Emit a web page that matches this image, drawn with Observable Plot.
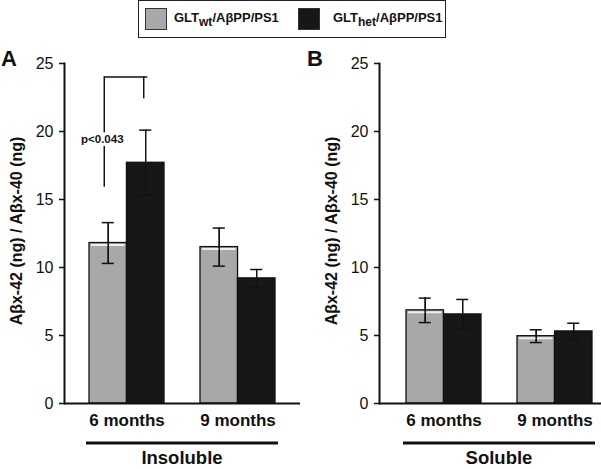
<!DOCTYPE html>
<html><head><meta charset="utf-8">
<script src="https://cdn.jsdelivr.net/npm/d3@7"></script>
<script src="https://cdn.jsdelivr.net/npm/@observablehq/plot@0.6"></script>
<style>
body{margin:0;background:#fff;font-family:"Liberation Sans",Arial,sans-serif;}
#wrap{position:relative;width:601px;height:469px;overflow:hidden;}
#legend{position:absolute;left:138px;top:0;width:306px;height:36px;border:1px solid #222;box-sizing:content-box;font-weight:bold;font-size:13px;color:#111;}
.sw{position:absolute;top:7px;width:20px;height:20px;border:1px solid #333;}
.lt{position:absolute;top:9px;white-space:nowrap;}
.lt sub{font-size:12px;vertical-align:-4px;line-height:0;}
.plabel{position:absolute;font-weight:bold;font-size:22px;color:#111;}
#panels{position:absolute;left:0;top:40px;display:flex;}
</style></head>
<body><div id="wrap">
<div id="legend"></div>
<div class="plabel" style="left:1px;top:46px">A</div>
<div class="plabel" style="left:307px;top:46px">B</div>
<div id="panels"></div>
</div>
<script>
const months = ["6 months", "9 months"];
const genotypes = ["wt", "het"];
const genoColors = ["#a8a8a8", "#171717"];
const legendLabels = [["GLT", "wt", "/AβPP/PS1"], ["GLT", "het", "/AβPP/PS1"]];
const yTicks = [0, 5, 10, 15, 20, 25];
const yLabel = "Aβx-42 (ng) / Aβx-40 (ng)";

// Panel A: insoluble  (order: 6wt, 6het, 9wt, 9het)
const insolubleMean = [11.8, 17.7, 11.5, 9.2];
const insolubleSem  = [1.5, 2.4, 1.4, 0.65];
// Panel B: soluble
const solubleMean = [6.85, 6.55, 4.95, 5.3];
const solubleSem  = [0.9, 1.1, 0.47, 0.6];

// significance annotation (panel A, 6 months)
const pText = "p<0.043";
const bracketTop = 24.0, bracketRightEnd = 22.4, bracketLeftEnd = 15.9;
const pGapTop = 19.9, pGapBottom = 18.9, pTextY = 19.4;

function rows(means, sems) {
  const out = [];
  months.forEach((m, i) => genotypes.forEach((g, j) => {
    const k = i * 2 + j;
    out.push({month: m, geno: g, mean: means[k], lo: means[k] - sems[k], hi: means[k] + sems[k]});
  }));
  return out;
}

// legend
const leg = document.getElementById("legend");
[[6, 35], [159, 194]].forEach(([sx, tx], i) => {
  const s = document.createElement("div");
  s.className = "sw"; s.style.left = sx + "px"; s.style.background = genoColors[i];
  leg.appendChild(s);
  const t = document.createElement("div");
  t.className = "lt"; t.style.left = tx + "px";
  t.innerHTML = legendLabels[i][0] + "<sub>" + legendLabels[i][1] + "</sub>" + legendLabels[i][2];
  leg.appendChild(t);
});

const W_H = 429, M_TOP = 23, M_BOTTOM = 66;

function panel(data, opts) {
  const range = [opts.marginLeft, opts.width];
  const bw = d3.scaleBand().domain(months).range(range)
    .paddingInner(opts.pi).paddingOuter(opts.po).align(opts.align).bandwidth();
  const half = bw / 2, q = bw / 4, cap = 6;
  const marks = [];
  genotypes.forEach((g, j) => {
    const d = data.filter(r => r.geno === g);
    const dx = j === 0 ? -q : q;
    marks.push(
      Plot.barY(d, {x: "month", y: "mean", fill: "geno", stroke: "#111", strokeWidth: 1.3,
        insetLeft: j === 0 ? 0 : half, insetRight: j === 0 ? half : 0}),
      Plot.ruleX(d, {x: "month", y1: "lo", y2: "hi", dx, stroke: "#111", strokeWidth: 1.5}),
      Plot.tickY(d, {x: "month", y: "hi", stroke: "#111", strokeWidth: 1.5,
        insetLeft: half + dx - cap, insetRight: half - dx - cap}),
      Plot.tickY(d, {x: "month", y: "lo", stroke: "#111", strokeWidth: 1.5,
        insetLeft: half + dx - cap, insetRight: half - dx - cap})
    );
    if (j === 0) marks.push(
      Plot.tickY(d, {x: "month", y: "mean", stroke: "#eeeeee", strokeWidth: 2, dy: 2,
        insetLeft: 2, insetRight: half + 2})
    );
  });
  const wt = data.filter(r => r.geno === "wt");
  marks.push(Plot.ruleX(wt, {x: "month", y1: "lo", y2: "hi", dx: -q, stroke: "#111", strokeWidth: 1.5}));
  marks.push(
    Plot.ruleY([0], {stroke: "#111", strokeWidth: 2}),
    Plot.frame({anchor: "left", stroke: "#111", strokeWidth: 2}),
    Plot.axisY({ticks: yTicks, tickSize: 5, tickPadding: 6, fontSize: 16, label: null, strokeWidth: 1.5}),
    Plot.axisX({tickSize: 0, tickPadding: 10, fontSize: 17, fontWeight: "bold", label: null}),
    ...(opts.extra ? opts.extra(bw) : [])
  );
  const p = Plot.plot({
    width: opts.width, height: W_H,
    marginLeft: opts.marginLeft, marginRight: 0, marginTop: M_TOP, marginBottom: M_BOTTOM,
    style: {fontFamily: "Liberation Sans, Arial, sans-serif", color: "#111", background: "transparent"},
    x: {domain: months, paddingInner: opts.pi, paddingOuter: opts.po, align: opts.align},
    y: {domain: [0, 25]},
    color: {domain: genotypes, range: genoColors},
    marks
  });
  const svg = d3.select(p);
  svg.append("text")
    .attr("transform", `translate(${opts.titleX},${(M_TOP + W_H - M_BOTTOM) / 2 - 2}) rotate(-90)`)
    .attr("text-anchor", "middle").attr("font-weight", "bold").attr("font-size", 16)
    .attr("fill", "#111").text(yLabel);
  const xs = p.scale("x");
  const x1 = xs.apply(months[0]) - 3, x2 = xs.apply(months[1]) + xs.bandwidth + 3;
  svg.append("line").attr("x1", x1).attr("x2", x2).attr("y1", 403).attr("y2", 403)
    .attr("stroke", "#111").attr("stroke-width", 3);
  svg.append("text").attr("x", (x1 + x2) / 2).attr("y", 424).attr("text-anchor", "middle")
    .attr("font-weight", "bold").attr("font-size", 18.5).attr("fill", "#111").text(opts.group);
  return p;
}

const dA = rows(insolubleMean, insolubleSem);
const dB = rows(solubleMean, solubleSem);
const six = [{month: months[0]}];
const extraA = (bw) => {
  const q = bw / 4;
  const line = {stroke: "#111", strokeWidth: 1.5};
  return [
    Plot.tickY(six, {x: "month", y: () => bracketTop, insetLeft: q - 4, insetRight: q - 2, ...line}),
    Plot.ruleX(six, {x: "month", y1: () => bracketTop, y2: () => bracketRightEnd, dx: q - 2, ...line}),
    Plot.ruleX(six, {x: "month", y1: () => bracketTop, y2: () => pGapTop, dx: -q - 4, ...line}),
    Plot.ruleX(six, {x: "month", y1: () => pGapBottom, y2: () => bracketLeftEnd, dx: -q - 4, ...line}),
    Plot.text(six, {x: "month", y: () => pTextY, text: () => pText, fontWeight: "bold", fontSize: 11.5, dx: -q - 6, fill: "#111"})
  ];
};
const pA = panel(dA, {width: 300, marginLeft: 64, pi: 0.327, po: 0.224, align: 0.5, titleX: 22, group: "Insoluble", extra: extraA});
const pB = panel(dB, {width: 301, marginLeft: 79, pi: 0.324, po: 0.162, align: 0.75, titleX: 37, group: "Soluble"});
document.getElementById("panels").append(pA, pB);
</script>
</body></html>
